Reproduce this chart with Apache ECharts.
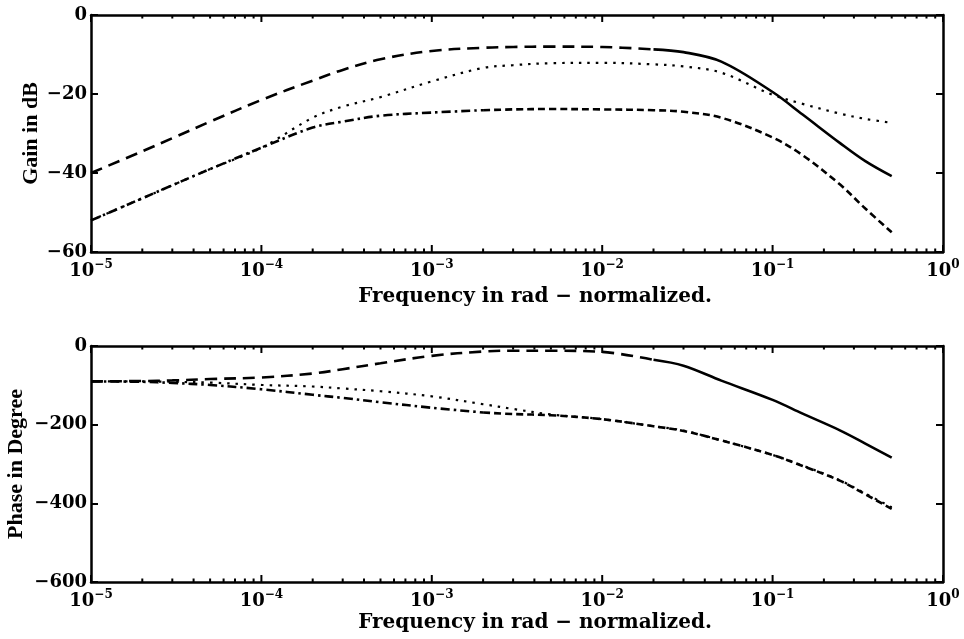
<!DOCTYPE html>
<html>
<head>
<meta charset="utf-8">
<script src="https://cdn.jsdelivr.net/npm/echarts@6.0.0/dist/echarts.min.js"></script>
<style>
  html, body { margin: 0; padding: 0; background: #ffffff; }
  #chart { width: 964px; height: 639px; }
</style>
</head>
<body>
<div id="chart"></div>
<script>
// Normalized frequency samples (rad), shared by all curves
const frequency = [1e-5, 2e-5, 3e-5, 5e-5, 1e-4, 2e-4, 3e-4, 5e-4, 1e-3, 2e-3, 3e-3,
                   5e-3, 1e-2, 2e-2, 3e-2, 5e-2, 0.1, 0.15, 0.25, 0.35, 0.5];

// Gain responses (dB)
const gainA = [-40, -34.5, -31.2, -27, -21.5, -16.6, -13.9, -11.2, -9.1, -8.3, -8.1,
               -8, -8.1, -8.7, -9.4, -11.8, -19.5, -25.2, -32.5, -37, -40.8];
const gainB = [-52, -46.4, -43.1, -39, -33.6, -26, -23.2, -20.8, -16.8, -13.4, -12.7,
               -12.2, -12.1, -12.5, -13, -14.6, -20.2, -22.5, -25, -26.3, -27.3];
const gainC = [-52, -46.4, -43.1, -39, -33.6, -28.5, -27, -25.5, -24.7, -24.1, -23.9,
               -23.8, -23.9, -24.1, -24.5, -26, -31, -35.5, -43, -49, -55];

// Phase responses (degrees)
const phaseA = [-90, -89, -87.5, -84, -80, -70, -59, -44, -25, -14, -12,
                -12, -15, -35, -50, -88, -137, -172, -215, -248, -284];
const phaseB = [-90, -90, -91, -93, -99, -103, -108, -115, -128, -148, -160,
                -174, -186, -204, -215, -240, -277, -304, -342, -375, -410];
const phaseC = [-90, -91, -94, -99, -110, -124, -132, -143, -157, -169, -173,
                -176, -186, -204, -216, -240, -277, -305, -343, -377, -414];

// Axis ticks
const gainTicks = [0, -20, -40, -60];
const phaseTicks = [0, -200, -400, -600];
const decadeExponents = [-5, -4, -3, -2, -1, 0];

// Where the line pattern changes along a curve
const splitA = 13;   // long dashes become a continuous line
const splitC = 9;    // dash-dot becomes short dashes

const xTitle = 'Frequency in rad \u2212 normalized.';

function pairs(vals, from, to) {
  const out = [];
  for (let i = from; i <= to; i++) out.push([frequency[i], vals[i]]);
  return out;
}

const tickFont = 'DejaVu Serif';
const black = '#000';
const lo = decadeExponents[0];
const hi = decadeExponents[decadeExponents.length - 1];

function minusText(v) {
  return v === 0 ? '0' : '\u2212' + Math.abs(v);
}

function logLabel(v) {
  const e = Math.round(Math.log10(v));
  return '{b|10}{s|' + (e < 0 ? '\u2212' + Math.abs(e) : e) + '}';
}

function frameLine() {
  return { show: true, onZero: false, lineStyle: { color: black, width: 2.5 } };
}
function majorTick() {
  return { show: true, inside: true, length: 7, lineStyle: { color: black, width: 2 } };
}

// log frequency axes: bottom one carries labels and title, top one closes the frame
function logAxesFor(gridIndex, titleGap) {
  const logAxis = (pos) => ({
    type: 'log', logBase: 10, gridIndex: gridIndex, position: pos,
    min: Math.pow(10, lo), max: Math.pow(10, hi),
    splitLine: { show: false },
    axisLine: frameLine(),
    axisTick: { show: false },
    axisLabel: { show: false }
  });
  const main = logAxis('bottom');
  main.axisLabel = {
    show: true,
    margin: 7,
    formatter: logLabel,
    rich: {
      b: { fontFamily: tickFont, fontWeight: 'bold', fontSize: 18, lineHeight: 24, color: black },
      s: { fontFamily: tickFont, fontWeight: 'bold', fontSize: 12, lineHeight: 12,
           verticalAlign: 'top', color: black }
    }
  };
  main.name = xTitle;
  main.nameLocation = 'middle';
  main.nameGap = titleGap;
  main.nameMoveOverlap = false;
  main.nameTextStyle = { fontFamily: tickFont, fontWeight: 'bold', fontSize: 20, lineHeight: 22,
                         color: black, padding: [0, 0, 0, 36] };
  return [main, logAxis('top')];
}

function yAxesFor(gridIndex, min, step, title, gap) {
  const valueAxis = (pos) => ({
    type: 'value', gridIndex: gridIndex, position: pos, min: min, max: 0, interval: step,
    splitLine: { show: false },
    axisLine: frameLine(),
    axisTick: majorTick(),
    axisLabel: { show: false }
  });
  const left = valueAxis('left');
  left.axisLabel = { show: true, margin: 4, formatter: minusText, color: black,
                     fontFamily: tickFont, fontWeight: 'bold', fontSize: 18 };
  left.name = title;
  left.nameLocation = 'middle';
  left.nameGap = gap;
  left.nameMoveOverlap = false;
  left.nameTextStyle = { fontFamily: 'Liberation Serif', fontWeight: 'bold', fontSize: 22, color: black };
  return [left, valueAxis('right')];
}

const styleLongDash = { color: black, width: 2.6, type: [12, 7] };
const styleSolid    = { color: black, width: 2.6, type: 'solid' };
const styleDot      = { color: black, width: 2.2, type: [2.5, 6] };
const styleDashDot  = { color: black, width: 2.6, type: [9, 4, 2.5, 4] };
const styleDash     = { color: black, width: 2.6, type: [7, 4] };

function line(data, xi, yi, style) {
  return {
    type: 'line', data: data, xAxisIndex: xi, yAxisIndex: yi,
    showSymbol: false, symbol: 'none', smooth: 0.35, silent: true,
    lineStyle: Object.assign({}, style), z: 3
  };
}

function curveSet(a, b, c, xi, yi) {
  const last = frequency.length - 1;
  return [
    line(pairs(a, 0, splitA), xi, yi, styleLongDash),
    line(pairs(a, splitA, last), xi, yi, styleSolid),
    line(pairs(b, 0, last), xi, yi, styleDot),
    line(pairs(c, 0, splitC), xi, yi, styleDashDot),
    line(pairs(c, splitC, last), xi, yi, styleDash)
  ];
}

const chart = echarts.init(document.getElementById('chart'), null, { renderer: 'canvas' });
chart.setOption({
  animation: false,
  backgroundColor: '#ffffff',
  grid: [
    { left: 91, right: 21, top: 15, height: 237, outerBoundsMode: 'none' },
    { left: 91, right: 21, top: 346, height: 236, outerBoundsMode: 'none' }
  ],
  xAxis: logAxesFor(0, 34).concat(logAxesFor(1, 30)),
  yAxis: yAxesFor(0, gainTicks[gainTicks.length - 1], 20, 'Gain in dB', 49)
    .concat(yAxesFor(1, phaseTicks[phaseTicks.length - 1], 200, 'Phase in Degree', 64)),
  series: curveSet(gainA, gainB, gainC, 0, 0).concat(curveSet(phaseA, phaseB, phaseC, 2, 2))
});

// Frequency ticks along the top and bottom frame edges: long at each decade,
// short at 2..9 within a decade, placed through the log axes' own scale.
function frequencyTicks() {
  const frames = [
    { xAxisIndex: 0, yAxisIndex: 0, yMin: gainTicks[gainTicks.length - 1] },
    { xAxisIndex: 2, yAxisIndex: 2, yMin: phaseTicks[phaseTicks.length - 1] }
  ];
  const els = [];
  const seg = (x, y1, y2) => ({
    type: 'line', silent: true, z: 10,
    shape: { x1: x, y1: y1, x2: x, y2: y2 },
    style: { stroke: black, lineWidth: 2 }
  });
  frames.forEach(f => {
    const yTop = chart.convertToPixel({ yAxisIndex: f.yAxisIndex }, 0);
    const yBot = chart.convertToPixel({ yAxisIndex: f.yAxisIndex }, f.yMin);
    decadeExponents.forEach(e => {
      const x = chart.convertToPixel({ xAxisIndex: f.xAxisIndex }, Math.pow(10, e));
      els.push(seg(x, yBot, yBot - 7), seg(x, yTop, yTop + 7));
      if (e < hi) {
        for (let k = 2; k <= 9; k++) {
          const xm = chart.convertToPixel({ xAxisIndex: f.xAxisIndex }, k * Math.pow(10, e));
          els.push(seg(xm, yBot, yBot - 3.5), seg(xm, yTop, yTop + 3.5));
        }
      }
    });
  });
  chart.setOption({ graphic: els });
}
frequencyTicks();
</script>
</body>
</html>
